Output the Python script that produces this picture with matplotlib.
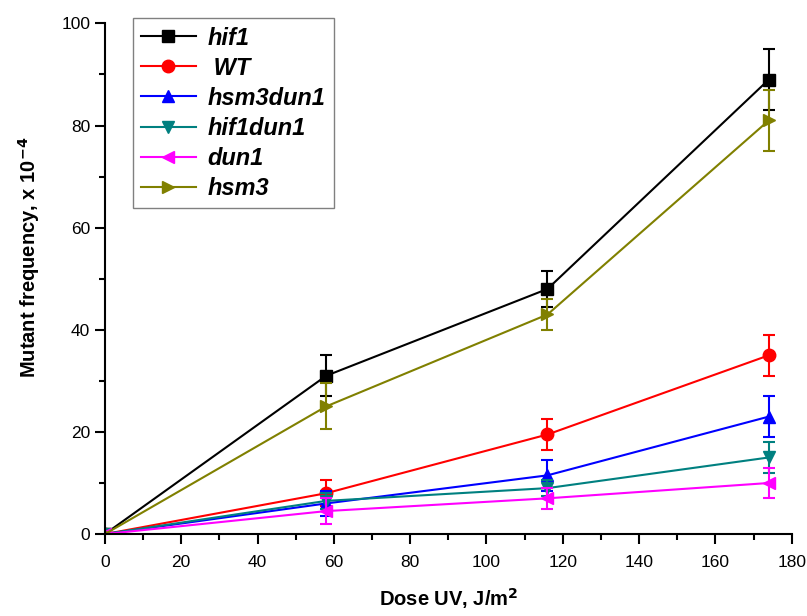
import matplotlib
matplotlib.use("Agg")
import matplotlib.pyplot as plt
from matplotlib.ticker import MultipleLocator

plt.rcParams['font.family'] = ['Liberation Sans', 'DejaVu Sans']

# UV dose (J/m^2)
dose = [0, 58, 116, 174]

# mutant frequency (x 10^-4) and error bars per strain
hif1 = [0, 31, 48, 89]
hif1_err = [0, 4, 3.5, 6]
wt = [0, 8, 19.5, 35]
wt_err = [0, 2.5, 3, 4]
hsm3dun1 = [0, 6, 11.5, 23]
hsm3dun1_err = [0, 2.5, 3, 4]
hif1dun1 = [0, 6.5, 9, 15]
hif1dun1_err = [0, 1.5, 1.5, 3]
dun1 = [0, 4.5, 7, 10]
dun1_err = [0, 2.5, 2, 3]
hsm3 = [0, 25, 43, 81]
hsm3_err = [0, 4.5, 3, 6]

series = [
    ("hif1", hif1, hif1_err, "black", "s"),
    (" WT", wt, wt_err, "red", "o"),
    ("hsm3dun1", hsm3dun1, hsm3dun1_err, "blue", "^"),
    ("hif1dun1", hif1dun1, hif1dun1_err, "#008080", "v"),
    ("dun1", dun1, dun1_err, "magenta", "<"),
    ("hsm3", hsm3, hsm3_err, "#808000", ">"),
]

fig = plt.figure(figsize=(8.07, 6.16), dpi=100)
ax = fig.add_axes([0.130, 0.133, 0.851, 0.829])

for name, vals, errs, col, mk in series:
    ax.errorbar(dose, vals, yerr=errs, fmt='none', ecolor=col,
                elinewidth=1.5, capsize=4.5, capthick=1.5)
    ax.plot(dose, vals, color=col, marker=mk, markersize=9,
            linewidth=1.5, label=name)

ax.set_xlim(0, 180)
ax.set_ylim(0, 100)
ax.xaxis.set_major_locator(MultipleLocator(20))
ax.xaxis.set_minor_locator(MultipleLocator(10))
ax.yaxis.set_major_locator(MultipleLocator(20))
ax.yaxis.set_minor_locator(MultipleLocator(10))

for s in ['top', 'right']:
    ax.spines[s].set_visible(False)
for s in ['left', 'bottom']:
    ax.spines[s].set_linewidth(1.5)
ax.tick_params(which='major', direction='out', length=7, width=1.5, labelsize=12.5)
ax.tick_params(which='minor', direction='out', length=4, width=1.5)
ax.tick_params(axis='x', pad=8)

ax.set_xlabel("Dose UV, J/m$^\\mathbf{2}$", fontsize=14.5, fontweight='bold', labelpad=12)
ax.set_ylabel("Mutant frequency, x 10$^\\mathbf{-4}$", fontsize=14.5, fontweight='bold')
ax.yaxis.set_label_coords(-0.092, 0.542)

leg = ax.legend(loc='upper left', bbox_to_anchor=(0.041, 1.01), borderaxespad=0,
                prop={'size': 17, 'weight': 'bold', 'style': 'italic'},
                fancybox=False, edgecolor='gray', framealpha=1, handlelength=2.3,
                borderpad=0.35, labelspacing=0.3, handletextpad=0.5)
leg.get_frame().set_linewidth(1.0)

fig.savefig("out.png", dpi=100)
